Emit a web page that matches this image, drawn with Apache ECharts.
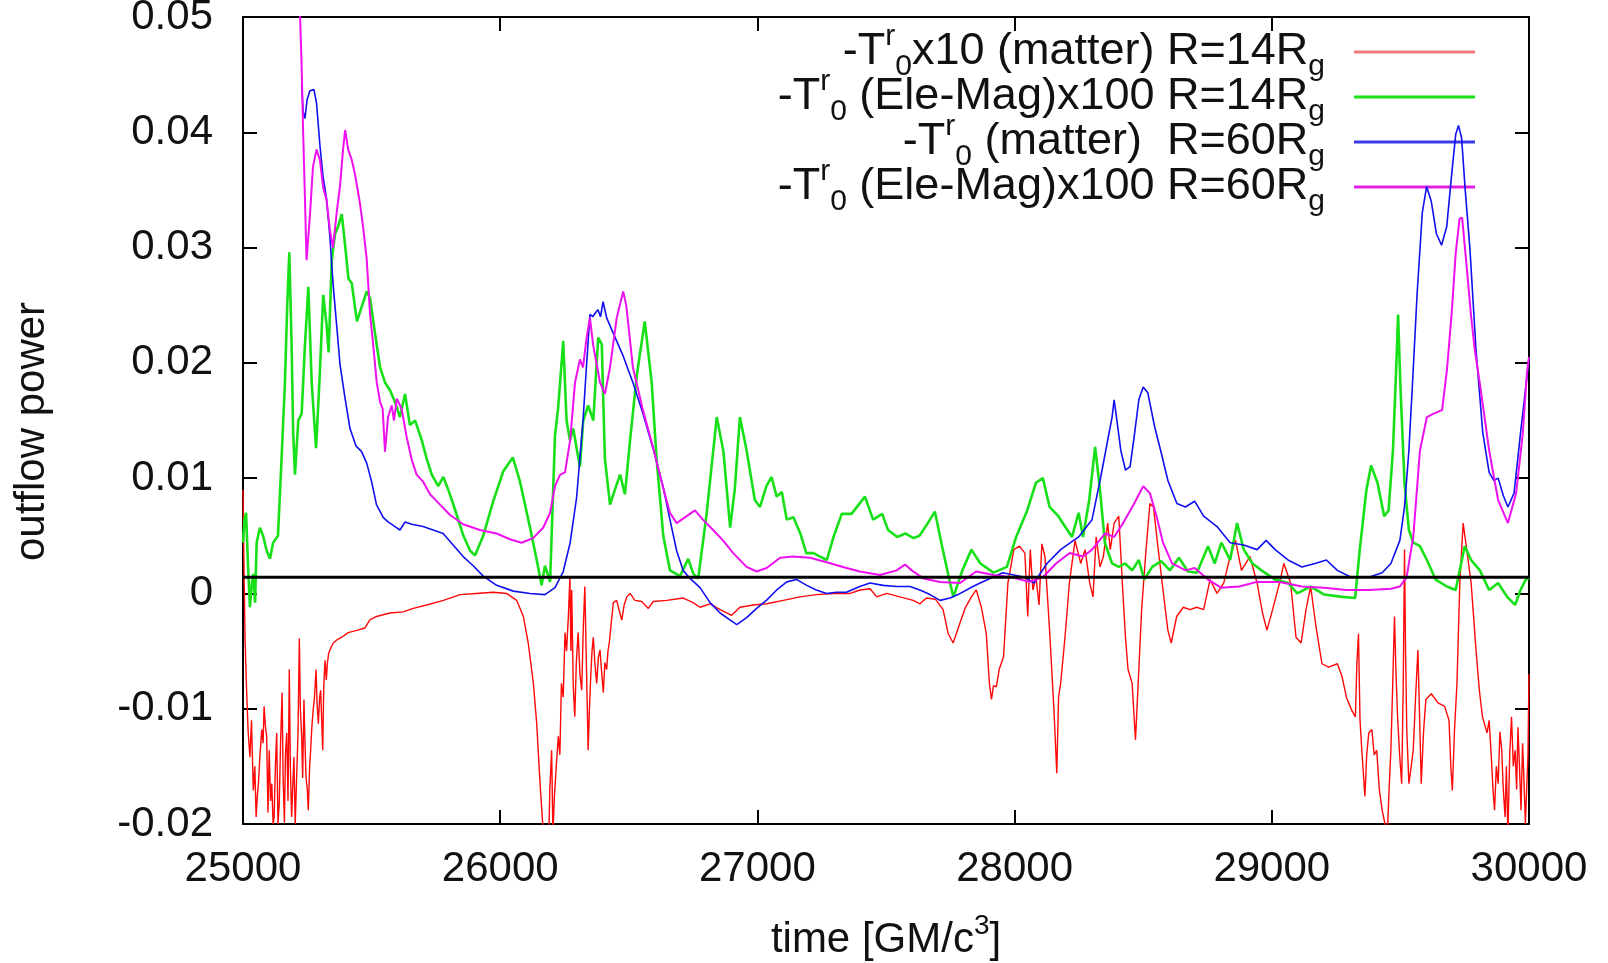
<!DOCTYPE html>
<html>
<head>
<meta charset="utf-8">
<title>outflow power</title>
<script src="https://cdn.jsdelivr.net/npm/echarts@6/dist/echarts.min.js"></script>
<style>
  html, body { margin: 0; padding: 0; background: #fff; }
  #chart { width: 1608px; height: 963px; }
</style>
</head>
<body>
<div id="chart"></div>
<script>
// time [GM/c^3] vs outflow power, four flux measurements
const xTicks = [25000, 26000, 27000, 28000, 29000, 30000];
const yTicks = [-0.02, -0.01, 0, 0.01, 0.02, 0.03, 0.04, 0.05];
const zeroLevel = 0.0014;

// -T^r_0 x10 (matter), R = 14 Rg
const matter14 = [
  [25000,0.0090],[25004,0.0020],[25008,-0.0040],[25014,-0.0084],[25020,-0.0120],[25027,-0.0142],[25033,-0.0110],[25040,-0.0171],
  [25046,-0.0150],[25051,-0.0194],[25056,-0.0175],[25060,-0.0165],[25066,-0.0140],[25073,-0.0118],[25078,-0.0130],[25082,-0.0098],
  [25087,-0.0115],[25092,-0.0124],[25097,-0.0190],[25102,-0.0136],[25107,-0.0180],[25112,-0.0165],[25117,-0.0200],[25121,-0.0194],
  [25126,-0.0150],[25131,-0.0121],[25136,-0.0200],[25141,-0.0182],[25146,-0.0130],[25152,-0.0086],[25156,-0.0160],[25161,-0.0199],
  [25165,-0.0140],[25170,-0.0121],[25175,-0.0180],[25180,-0.0066],[25184,-0.0150],[25189,-0.0194],[25193,-0.0170],[25198,-0.0142],
  [25203,-0.0200],[25209,-0.0199],[25214,-0.0120],[25219,-0.0039],[25223,-0.0100],[25228,-0.0124],[25232,-0.0160],[25237,-0.0092],
  [25241,-0.0130],[25245,-0.0159],[25250,-0.0170],[25254,-0.0188],[25259,-0.0150],[25263,-0.0136],[25268,-0.0115],[25273,-0.0101],
  [25278,-0.0090],[25284,-0.0066],[25288,-0.0095],[25293,-0.0113],[25298,-0.0090],[25302,-0.0084],[25306,-0.0110],[25310,-0.0136],
  [25314,-0.0080],[25319,-0.0058],[25324,-0.0075],[25328,-0.0061],[25333,-0.0052],[25338,-0.0049],[25344,-0.0046],[25351,-0.0043],
  [25367,-0.0040],[25384,-0.0038],[25409,-0.0034],[25442,-0.0032],[25474,-0.0030],[25493,-0.0023],[25519,-0.0020],[25571,-0.0017],
  [25623,-0.0016],[25662,-0.0013],[25714,-0.0010],[25779,-0.0006],[25844,-0.0001],[25907,0.0000],[25973,0.0001],[26025,0.0000],
  [26064,-0.0006],[26090,-0.0020],[26109,-0.0043],[26129,-0.0078],[26142,-0.0113],[26155,-0.0165],[26165,-0.0199],[26172,-0.0230],
  [26187,-0.0230],[26193,-0.0170],[26200,-0.0136],[26205,-0.0210],[26210,-0.0179],[26218,-0.0150],[26226,-0.0124],[26232,-0.0140],
  [26238,-0.0078],[26245,-0.0090],[26252,-0.0034],[26258,-0.0050],[26265,-0.0020],[26271,0.0014],[26275,-0.0050],[26278,0.0003],
  [26284,-0.0080],[26290,-0.0107],[26296,-0.0060],[26303,-0.0034],[26310,-0.0070],[26317,-0.0084],[26323,-0.0030],[26329,0.0006],
  [26335,-0.0060],[26342,-0.0136],[26347,-0.0100],[26352,-0.0072],[26357,-0.0050],[26362,-0.0038],[26368,-0.0060],[26375,-0.0078],
  [26382,-0.0055],[26388,-0.0049],[26395,-0.0070],[26401,-0.0086],[26407,-0.0060],[26414,-0.0066],[26419,-0.0050],[26424,-0.0043],
  [26432,-0.0025],[26440,-0.0008],[26453,-0.0006],[26463,-0.0015],[26473,-0.0023],[26482,-0.0010],[26492,-0.0003],[26505,0.0000],
  [26524,-0.0006],[26550,-0.0007],[26576,-0.0013],[26595,-0.0007],[26647,-0.0006],[26712,-0.0004],[26750,-0.0008],[26777,-0.0012],
  [26816,-0.0009],[26855,-0.0014],[26900,-0.0019],[26932,-0.0012],[26984,-0.0010],[27036,-0.0009],[27101,-0.0006],[27166,-0.0003],
  [27230,-0.0001],[27295,0.0000],[27360,0.0000],[27399,0.0003],[27438,0.0004],[27464,-0.0003],[27503,0.0000],[27554,-0.0003],
  [27606,-0.0006],[27632,-0.0009],[27657,-0.0004],[27692,-0.0005],[27722,-0.0014],[27742,-0.0035],[27761,-0.0043],[27781,-0.0030],
  [27807,-0.0013],[27832,-0.0003],[27851,0.0003],[27871,-0.0012],[27890,-0.0035],[27902,-0.0078],[27910,-0.0092],[27918,-0.0080],
  [27929,-0.0081],[27940,-0.0066],[27957,-0.0055],[27974,0.0009],[27997,0.0038],[28019,0.0041],[28040,0.0035],[28051,-0.0020],
  [28061,0.0038],[28071,0.0003],[28083,0.0014],[28095,-0.0010],[28106,0.0043],[28118,0.0032],[28136,-0.0032],[28153,-0.0101],
  [28164,-0.0156],[28171,-0.0090],[28179,-0.0078],[28196,-0.0038],[28213,0.0009],[28235,0.0046],[28257,0.0026],[28274,0.0038],
  [28292,0.0009],[28305,-0.0003],[28317,0.0049],[28332,0.0023],[28345,0.0032],[28362,0.0061],[28372,0.0038],[28387,0.0061],
  [28405,0.0067],[28419,0.0009],[28431,-0.0038],[28441,-0.0066],[28457,-0.0078],[28470,-0.0127],[28483,-0.0066],[28494,-0.0014],
  [28509,0.0032],[28526,0.0078],[28540,0.0075],[28556,0.0043],[28577,0.0003],[28596,-0.0032],[28609,-0.0043],[28630,-0.0020],
  [28656,-0.0012],[28682,-0.0014],[28708,-0.0012],[28735,-0.0014],[28760,0.0012],[28787,0.0000],[28813,0.0009],[28838,0.0032],
  [28859,0.0046],[28882,0.0020],[28915,0.0032],[28943,0.0009],[28964,-0.0017],[28981,-0.0032],[29003,-0.0014],[29030,0.0009],
  [29047,0.0026],[29073,0.0009],[29094,-0.0038],[29114,-0.0043],[29133,-0.0014],[29151,0.0006],[29172,-0.0029],[29195,-0.0061],
  [29221,-0.0064],[29255,-0.0061],[29273,-0.0072],[29290,-0.0090],[29310,-0.0101],[29325,-0.0107],[29331,-0.0060],[29337,-0.0035],
  [29343,-0.0110],[29350,-0.0136],[29362,-0.0176],[29369,-0.0140],[29377,-0.0121],[29389,-0.0118],[29398,-0.0140],[29408,-0.0136],
  [29418,-0.0170],[29429,-0.0188],[29440,-0.0200],[29449,-0.0210],[29456,-0.0170],[29463,-0.0136],[29470,-0.0080],[29477,-0.0020],
  [29483,-0.0070],[29489,-0.0107],[29497,-0.0140],[29505,-0.0165],[29511,-0.0080],[29516,0.0038],[29520,-0.0050],[29525,-0.0120],
  [29533,-0.0165],[29542,-0.0150],[29550,-0.0136],[29559,-0.0090],[29568,-0.0049],[29575,-0.0110],[29581,-0.0165],[29590,-0.0120],
  [29599,-0.0092],[29620,-0.0087],[29646,-0.0095],[29672,-0.0098],[29689,-0.0110],[29696,-0.0150],[29702,-0.0171],[29710,-0.0120],
  [29720,-0.0078],[29731,0.0009],[29744,0.0061],[29758,0.0038],[29775,0.0009],[29794,-0.0049],[29807,-0.0084],[29819,-0.0107],
  [29837,-0.0121],[29845,-0.0110],[29854,-0.0144],[29860,-0.0170],[29866,-0.0188],[29873,-0.0150],[29880,-0.0165],[29887,-0.0120],
  [29894,-0.0136],[29900,-0.0170],[29907,-0.0194],[29912,-0.0150],[29918,-0.0210],[29925,-0.0140],[29932,-0.0107],[29939,-0.0150],
  [29946,-0.0136],[29952,-0.0170],[29957,-0.0116],[29963,-0.0150],[29969,-0.0188],[29975,-0.0130],[29980,-0.0159],[29986,-0.0200],
  [29992,-0.0199],[29996,-0.0140],[30000,-0.0070]
];

// -T^r_0 (Ele-Mag) x100, R = 14 Rg
const emag14 = [
  [25000,0.0044],[25006,0.0065],[25012,0.0070],[25019,0.0027],[25027,-0.0012],[25033,0.0005],[25040,0.0017],[25047,-0.0008],
  [25053,0.0044],[25066,0.0057],[25078,0.0050],[25092,0.0037],[25105,0.0030],[25117,0.0044],[25136,0.0050],[25150,0.0117],
  [25163,0.0183],[25172,0.0250],[25180,0.0296],[25189,0.0216],[25195,0.0140],[25202,0.0103],[25215,0.0150],[25228,0.0156],
  [25241,0.0216],[25254,0.0266],[25267,0.0183],[25284,0.0126],[25297,0.0183],[25312,0.0259],[25325,0.0233],[25333,0.0209],
  [25345,0.0289],[25358,0.0312],[25371,0.0319],[25384,0.0329],[25397,0.0302],[25410,0.0273],[25423,0.0269],[25443,0.0236],
  [25462,0.0249],[25481,0.0262],[25494,0.0256],[25513,0.0226],[25533,0.0196],[25552,0.0183],[25572,0.0176],[25591,0.0166],
  [25610,0.0153],[25630,0.0173],[25649,0.0146],[25669,0.0150],[25695,0.0133],[25714,0.0117],[25734,0.0103],[25759,0.0093],
  [25779,0.0101],[25798,0.0090],[25824,0.0073],[25857,0.0050],[25883,0.0037],[25902,0.0033],[25934,0.0050],[25973,0.0080],
  [26012,0.0106],[26049,0.0118],[26077,0.0097],[26116,0.0057],[26141,0.0030],[26161,0.0007],[26174,0.0024],[26194,0.0010],
  [26213,0.0137],[26225,0.0160],[26245,0.0219],[26258,0.0150],[26271,0.0133],[26284,0.0143],[26297,0.0126],[26310,0.0110],
  [26323,0.0150],[26342,0.0163],[26362,0.0150],[26381,0.0222],[26395,0.0216],[26407,0.0117],[26427,0.0077],[26446,0.0090],
  [26466,0.0103],[26485,0.0086],[26505,0.0133],[26531,0.0189],[26562,0.0236],[26589,0.0183],[26608,0.0117],[26634,0.0050],
  [26660,0.0020],[26699,0.0015],[26731,0.0030],[26751,0.0017],[26770,0.0013],[26803,0.0070],[26842,0.0153],[26868,0.0123],
  [26894,0.0057],[26912,0.0090],[26932,0.0153],[26958,0.0124],[26990,0.0081],[27010,0.0075],[27035,0.0093],[27055,0.0101],
  [27075,0.0084],[27095,0.0088],[27114,0.0064],[27140,0.0066],[27167,0.0052],[27190,0.0035],[27218,0.0035],[27244,0.0032],
  [27270,0.0029],[27296,0.0049],[27328,0.0069],[27366,0.0069],[27418,0.0084],[27450,0.0064],[27485,0.0069],[27508,0.0055],
  [27544,0.0049],[27575,0.0052],[27607,0.0048],[27630,0.0050],[27654,0.0058],[27690,0.0071],[27718,0.0041],[27749,0.0009],
  [27762,-0.0003],[27797,0.0020],[27832,0.0038],[27867,0.0026],[27918,0.0018],[27970,0.0023],[28006,0.0049],[28049,0.0072],
  [28083,0.0096],[28110,0.0100],[28136,0.0075],[28170,0.0067],[28196,0.0058],[28223,0.0049],[28249,0.0070],[28266,0.0049],
  [28290,0.0081],[28313,0.0127],[28332,0.0090],[28351,0.0044],[28379,0.0026],[28405,0.0023],[28430,0.0026],[28457,0.0020],
  [28483,0.0029],[28504,0.0012],[28535,0.0023],[28570,0.0028],[28604,0.0020],[28639,0.0031],[28674,0.0019],[28709,0.0018],
  [28752,0.0041],[28778,0.0026],[28804,0.0044],[28838,0.0029],[28865,0.0061],[28891,0.0038],[28925,0.0026],[28960,0.0020],
  [29013,0.0012],[29064,0.0009],[29099,0.0000],[29151,0.0006],[29204,-0.0001],[29274,-0.0003],[29324,-0.0004],[29342,0.0038],
  [29368,0.0090],[29386,0.0111],[29411,0.0096],[29437,0.0067],[29454,0.0072],[29471,0.0124],[29484,0.0197],[29491,0.0242],
  [29500,0.0180],[29516,0.0096],[29533,0.0055],[29550,0.0044],[29576,0.0041],[29603,0.0029],[29637,0.0012],[29681,0.0006],
  [29715,0.0003],[29750,0.0041],[29775,0.0029],[29809,0.0020],[29845,0.0003],[29880,0.0009],[29915,-0.0003],[29946,-0.0010],
  [29967,0.0003],[29992,0.0014],[30000,0.0012]
];

// -T^r_0 (matter), R = 60 Rg
const matter60 = [
  [25228,0.0441],[25234,0.0418],[25241,0.0412],[25249,0.0428],[25260,0.0436],[25276,0.0437],[25286,0.0425],[25299,0.0389],
  [25311,0.0362],[25325,0.0342],[25338,0.0309],[25350,0.0269],[25364,0.0233],[25377,0.0199],[25397,0.0169],[25416,0.0143],
  [25439,0.0128],[25461,0.0123],[25481,0.0113],[25500,0.0097],[25519,0.0077],[25545,0.0066],[25564,0.0062],[25591,0.0058],
  [25610,0.0055],[25630,0.0062],[25656,0.0060],[25700,0.0058],[25739,0.0055],[25778,0.0052],[25817,0.0042],[25856,0.0032],
  [25895,0.0024],[25934,0.0015],[25986,0.0007],[26051,0.0002],[26116,0.0000],[26174,-0.0001],[26213,0.0005],[26245,0.0019],
  [26272,0.0044],[26297,0.0083],[26322,0.0150],[26336,0.0199],[26349,0.0242],[26360,0.0240],[26369,0.0243],[26380,0.0246],
  [26390,0.0240],[26400,0.0253],[26414,0.0239],[26439,0.0226],[26478,0.0206],[26516,0.0183],[26555,0.0156],[26594,0.0126],
  [26633,0.0093],[26660,0.0064],[26686,0.0037],[26711,0.0020],[26738,0.0013],[26777,0.0005],[26816,-0.0008],[26855,-0.0017],
  [26893,-0.0023],[26920,-0.0027],[26958,-0.0021],[26997,-0.0013],[27035,-0.0006],[27075,0.0003],[27114,0.0010],[27153,0.0012],
  [27192,0.0007],[27229,0.0003],[27269,0.0000],[27307,0.0001],[27346,0.0001],[27398,0.0006],[27438,0.0009],[27489,0.0007],
  [27541,0.0006],[27593,0.0006],[27632,0.0003],[27671,-0.0001],[27710,-0.0006],[27749,-0.0004],[27780,-0.0001],[27838,0.0006],
  [27866,0.0009],[27954,0.0018],[28040,0.0014],[28075,0.0009],[28126,0.0026],[28179,0.0038],[28249,0.0049],[28301,0.0064],
  [28335,0.0101],[28362,0.0133],[28379,0.0153],[28387,0.0168],[28396,0.0153],[28413,0.0124],[28431,0.0107],[28449,0.0110],
  [28465,0.0136],[28483,0.0168],[28500,0.0179],[28518,0.0174],[28544,0.0145],[28570,0.0122],[28596,0.0098],[28631,0.0078],
  [28664,0.0075],[28700,0.0080],[28735,0.0067],[28787,0.0058],[28838,0.0044],[28891,0.0042],[28943,0.0038],[28978,0.0046],
  [29013,0.0038],[29063,0.0029],[29117,0.0023],[29168,0.0026],[29212,0.0029],[29255,0.0020],[29308,0.0014],[29377,0.0014],
  [29429,0.0018],[29463,0.0026],[29498,0.0046],[29516,0.0075],[29533,0.0124],[29547,0.0182],[29565,0.0260],[29585,0.0330],
  [29602,0.0353],[29620,0.0340],[29640,0.0312],[29660,0.0302],[29680,0.0318],[29700,0.0365],[29715,0.0398],[29726,0.0406],
  [29738,0.0395],[29752,0.0350],[29770,0.0300],[29794,0.0211],[29820,0.0140],[29845,0.0105],[29863,0.0098],[29880,0.0100],
  [29900,0.0085],[29918,0.0075],[29942,0.0087],[29967,0.0139],[29992,0.0188],[30000,0.0205]
];

// -T^r_0 (Ele-Mag) x100, R = 60 Rg
const emag60 = [
  [25215,0.0560],[25222,0.0500],[25228,0.0457],[25234,0.0399],[25241,0.0341],[25247,0.0289],[25260,0.0327],[25272,0.0370],
  [25286,0.0385],[25299,0.0376],[25311,0.0353],[25325,0.0341],[25338,0.0315],[25350,0.0300],[25364,0.0330],[25377,0.0353],
  [25389,0.0385],[25397,0.0402],[25409,0.0385],[25423,0.0376],[25435,0.0364],[25455,0.0338],[25467,0.0318],[25481,0.0290],
  [25494,0.0242],[25506,0.0216],[25520,0.0183],[25533,0.0166],[25543,0.0160],[25552,0.0123],[25564,0.0153],[25578,0.0163],
  [25587,0.0150],[25598,0.0169],[25617,0.0160],[25636,0.0136],[25656,0.0116],[25675,0.0103],[25700,0.0097],[25727,0.0086],
  [25766,0.0077],[25805,0.0068],[25856,0.0060],[25921,0.0055],[25986,0.0052],[26038,0.0047],[26083,0.0044],[26128,0.0048],
  [26167,0.0057],[26194,0.0070],[26213,0.0093],[26233,0.0103],[26252,0.0105],[26272,0.0133],[26291,0.0183],[26310,0.0203],
  [26322,0.0196],[26336,0.0222],[26349,0.0239],[26361,0.0216],[26388,0.0183],[26407,0.0173],[26427,0.0196],[26453,0.0239],
  [26478,0.0262],[26490,0.0250],[26516,0.0196],[26555,0.0159],[26594,0.0127],[26633,0.0092],[26660,0.0070],[26686,0.0061],
  [26718,0.0066],[26757,0.0072],[26788,0.0064],[26828,0.0055],[26866,0.0046],[26906,0.0035],[26958,0.0023],[26997,0.0019],
  [27036,0.0022],[27088,0.0031],[27139,0.0032],[27205,0.0031],[27269,0.0027],[27333,0.0023],[27398,0.0019],[27477,0.0016],
  [27541,0.0020],[27574,0.0025],[27600,0.0020],[27645,0.0013],[27710,0.0010],[27788,0.0009],[27850,0.0019],[27919,0.0016],
  [27988,0.0014],[28058,0.0010],[28110,0.0014],[28161,0.0026],[28214,0.0035],[28266,0.0032],[28301,0.0038],[28352,0.0052],
  [28387,0.0049],[28422,0.0061],[28465,0.0078],[28500,0.0093],[28526,0.0087],[28552,0.0067],[28577,0.0044],[28612,0.0026],
  [28665,0.0020],[28700,0.0022],[28752,0.0012],[28803,0.0005],[28873,0.0006],[28943,0.0010],[29030,0.0010],[29117,0.0006],
  [29204,0.0005],[29289,0.0003],[29377,0.0003],[29463,0.0004],[29498,0.0006],[29524,0.0014],[29550,0.0049],[29576,0.0124],
  [29603,0.0153],[29629,0.0156],[29662,0.0159],[29681,0.0194],[29700,0.0245],[29715,0.0295],[29730,0.0325],[29740,0.0326],
  [29755,0.0290],[29775,0.0240],[29790,0.0210],[29809,0.0182],[29845,0.0124],[29880,0.0081],[29918,0.0061],[29950,0.0087],
  [29976,0.0139],[29992,0.0191],[30000,0.0205]
];

const seriesKeys = ['m14', 'em14', 'm60', 'em60'];
const seriesData = { m14: matter14, em14: emag14, m60: matter60, em60: emag60 };
const seriesColors = { m14: '#ff0808', em14: '#18e018', m60: '#1010f0', em60: '#ee10ee' };
const sampleColors = { m14: '#f27a7a', em14: '#18e018', m60: '#3a3ae8', em60: '#e020e0' };
const seriesWidths = { m14: 1.4, em14: 2.6, m60: 1.6, em60: 2.0 };
const legendLabels = {
  m14: '-T{sup|r}{sub|0}x10 (matter) R=14R{sub|g}{gap| }',
  em14: '-T{sup|r}{sub|0} (Ele-Mag)x100 R=14R{sub|g}{gap| }',
  m60: '-T{sup|r}{sub|0} (matter)  R=60R{sub|g}{gap| }',
  em60: '-T{sup|r}{sub|0} (Ele-Mag)x100 R=60R{sub|g}{gap| }'
};

const FONT = "'Liberation Sans', Arial, Helvetica, sans-serif";
const INK = '#111';

const chart = echarts.init(document.getElementById('chart'), null, { renderer: 'canvas' });

const frameAxis = (pos) => ({
  axisLine: { show: true, onZero: false, lineStyle: { color: '#000', width: 2 } },
  axisTick: { show: true, inside: true, length: 14, lineStyle: { color: '#000', width: 2 } },
  splitLine: { show: false },
  position: pos
});

const series = seriesKeys.map((k, i) => ({
  name: k,
  type: 'line',
  data: seriesData[k],
  showSymbol: false,
  symbol: 'none',
  clip: true,
  z: 2 + i,
  lineStyle: { color: seriesColors[k], width: seriesWidths[k] },
  itemStyle: { color: seriesColors[k] }
}));

// horizontal black reference line across the whole frame
series.push({
  name: 'level',
  type: 'line',
  data: [[xTicks[0], zeroLevel], [xTicks[xTicks.length - 1], zeroLevel]],
  showSymbol: false,
  symbol: 'none',
  silent: true,
  z: 10,
  lineStyle: { color: '#000', width: 3 },
  itemStyle: { color: '#000' }
});

const option = {
  animation: false,
  backgroundColor: '#ffffff',
  grid: { left: 243, right: 79, top: 17, bottom: 139, containLabel: false, outerBoundsMode: 'none' },
  xAxis: [
    Object.assign(frameAxis('bottom'), {
      type: 'value', min: xTicks[0], max: xTicks[xTicks.length - 1], interval: 1000,
      axisLabel: { fontSize: 42, margin: 24, color: INK, fontFamily: FONT, formatter: v => String(v) },
      name: 'time [GM/c{sup|3}]',
      nameLocation: 'middle',
      nameGap: 88,
      nameTextStyle: {
        fontSize: 42, lineHeight: 56, color: INK, fontFamily: FONT,
        rich: { sup: { fontSize: 28, lineHeight: 28, verticalAlign: 'top', color: INK, fontFamily: FONT } }
      }
    }),
    Object.assign(frameAxis('top'), {
      type: 'value', min: xTicks[0], max: xTicks[xTicks.length - 1], interval: 1000,
      axisLabel: { show: false }
    })
  ],
  yAxis: [
    Object.assign(frameAxis('left'), {
      type: 'value', min: yTicks[0], max: yTicks[yTicks.length - 1], interval: 0.01,
      axisLabel: {
        fontSize: 42, margin: 30, color: INK, fontFamily: FONT,
        formatter: v => (Math.abs(v) < 1e-9 ? '0' : v.toFixed(2))
      },
      name: 'outflow power',
      nameLocation: 'middle',
      nameGap: 190,
      nameTextStyle: { fontSize: 42, color: INK, fontFamily: FONT, padding: [0, 22, 0, 0] }
    }),
    Object.assign(frameAxis('right'), {
      type: 'value', min: yTicks[0], max: yTicks[yTicks.length - 1], interval: 0.01,
      axisLabel: { show: false }
    })
  ],
  legend: {
    orient: 'vertical',
    right: 133,
    top: 22,
    padding: 0,
    align: 'right',
    itemGap: -15,
    itemWidth: 121,
    itemHeight: 3,
    icon: 'rect',
    selectedMode: false,
    data: seriesKeys.map(k => ({ name: k, icon: 'rect', itemStyle: { color: sampleColors[k] } })),
    formatter: name => legendLabels[name],
    textStyle: {
      fontSize: 45, lineHeight: 60, color: INK, fontFamily: FONT,
      rich: {
        sup: { fontSize: 30, lineHeight: 30, verticalAlign: 'top', color: INK, fontFamily: FONT },
        sub: { fontSize: 30, lineHeight: 30, verticalAlign: 'bottom', color: INK, fontFamily: FONT },
        gap: { fontSize: 20, width: 24 }
      }
    }
  },
  series: series
};

chart.setOption(option);
</script>
</body>
</html>
